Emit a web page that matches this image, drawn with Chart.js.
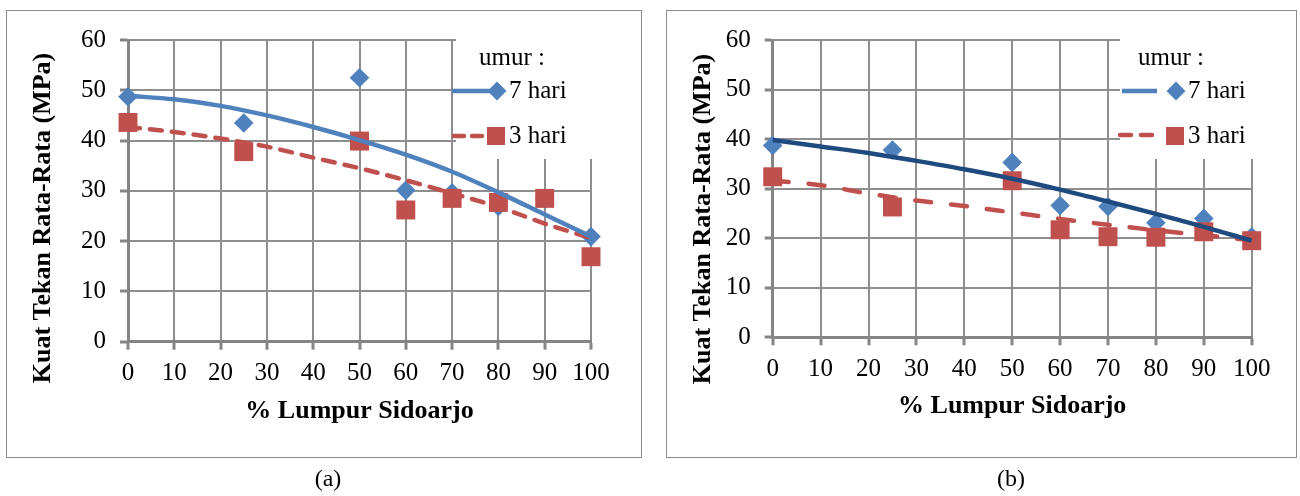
<!DOCTYPE html>
<html><head><meta charset="utf-8">
<script src="https://cdn.jsdelivr.net/npm/chart.js@4.4.1/dist/chart.umd.min.js"></script>
<style>
html,body{margin:0;padding:0;background:#fff;}
#wrap{position:relative;width:1300px;height:496px;overflow:hidden;font-family:'Liberation Serif','Times New Roman',serif;}
.frame{position:absolute;border:1.5px solid #8c8c8c;box-sizing:border-box;}
canvas{position:absolute;top:0;}
.cap{position:absolute;top:464px;font-size:24px;line-height:28px;transform:translateX(-50%);color:#000;}
</style></head>
<body><div id="wrap">
<div class="frame" style="left:6px;top:10px;width:636px;height:448px"></div>
<div class="frame" style="left:666px;top:10px;width:631px;height:448px"></div>
<canvas id="ca" width="650" height="496" style="left:0"></canvas>
<canvas id="cb" width="650" height="496" style="left:650px"></canvas>
<div class="cap" style="left:328px">(a)</div>
<div class="cap" style="left:1011px">(b)</div>
</div>
<script>
// ---- data ----
const lumpurPct = [0, 25, 50, 60, 70, 80, 90, 100];
const trendX = [0, 10, 20, 30, 40, 50, 60, 70, 80, 90, 100];
const xTickStep = 10, xMin = 0, xMax = 100;
const yTickStep = 10, yMin = 0, yMax = 60;
const seriesNames = ['7 hari', '3 hari'];
const legendTitle = 'umur :';
const xTitle = '% Lumpur Sidoarjo';
const yTitle = 'Kuat Tekan Rata-Rata (MPa)';
const panelLabels = ['(a)', '(b)'];

// panel (a)
const a7 = [48.7, 43.5, 52.5, 30.1, 29.6, 26.9, 28.4, 20.9];
const a3 = [43.6, 37.8, 39.9, 26.2, 28.5, 27.7, 28.5, 16.9];
const a7Trend = [48.9, 48.2, 46.9, 45.0, 42.7, 40.1, 37.2, 33.8, 29.7, 25.3, 20.9];
const a3Trend = [42.7, 41.7, 40.4, 38.8, 36.6, 34.5, 32.1, 29.5, 26.8, 23.5, 20.6];
// panel (b)
const b7 = [38.7, 37.8, 35.3, 26.6, 26.4, 23.1, 24.0, 20.3];
const b3 = [32.4, 26.3, 31.6, 21.7, 20.3, 20.2, 21.3, 19.5];
const b7Trend = [39.8, 38.5, 37.2, 35.6, 33.9, 32.0, 29.8, 27.4, 24.9, 22.3, 19.5];
const b3Trend = [31.6, 30.7, 29.0, 27.6, 26.5, 25.2, 23.9, 22.7, 21.6, 20.6, 19.6];

// ---- styles ----
const FONT = "'Liberation Serif','Times New Roman',serif";
const BLUE = '#4F81BD', NAVY = '#1F4A80', RED = '#C0504D';
const GRID = '#8e8e8e', AXIS = '#858585';

function pts(xs, ys) { return xs.map((x, i) => ({x: x, y: ys[i]})); }

function drawDiamond(ctx, x, y, r, c) {
  ctx.beginPath(); ctx.moveTo(x - r, y); ctx.lineTo(x, y - r); ctx.lineTo(x + r, y); ctx.lineTo(x, y + r); ctx.closePath();
  ctx.fillStyle = c; ctx.fill();
}

function decor(p) {
  return {
    id: 'decor',
    beforeDatasetsDraw(chart) {
      const ctx = chart.ctx;
      ctx.save(); ctx.fillStyle = '#fff';
      ctx.fillRect(p.box[0], p.box[1], p.box[2], p.box[3]);
      ctx.restore();
    },
    afterDraw(chart) {
      const ctx = chart.ctx;
      ctx.save();
      ctx.fillStyle = '#000';
      ctx.font = 'bold 26px ' + FONT;
      ctx.translate(p.yTitle[0], p.yTitle[1]);
      ctx.rotate(-Math.PI / 2);
      ctx.textAlign = 'center'; ctx.textBaseline = 'middle';
      ctx.fillText(yTitle, 0, 0);
      ctx.restore();

      ctx.save();
      ctx.font = '25px ' + FONT;
      ctx.fillStyle = '#000'; ctx.textAlign = 'left'; ctx.textBaseline = 'alphabetic';
      ctx.fillText(legendTitle, p.umur[0], p.umur[1]);
      ctx.fillText(seriesNames[0], p.t7[0], p.t7[1]);
      ctx.fillText(seriesNames[1], p.t3[0], p.t3[1]);
      ctx.lineWidth = 4.5; ctx.strokeStyle = BLUE; ctx.lineCap = 'butt';
      ctx.beginPath(); ctx.moveTo(p.l7[0], p.l7[2]); ctx.lineTo(p.l7[1], p.l7[2]); ctx.stroke();
      drawDiamond(ctx, p.m7[0], p.m7[1], 9.5, BLUE);
      ctx.strokeStyle = RED; ctx.lineCap = 'round'; ctx.setLineDash(p.legDash);
      ctx.beginPath(); ctx.moveTo(p.l3[0], p.l3[2]); ctx.lineTo(p.l3[1], p.l3[2]); ctx.stroke();
      ctx.setLineDash([]);
      ctx.fillStyle = RED;
      ctx.fillRect(p.m3[0] - 9, p.m3[1] - 9, 18, 18);
      ctx.restore();
    }
  };
}

function makeChart(id, d7, d3, t7, t3, t7color, dash, geo) {
  const tickFont = {family: FONT, size: 25};
  return new Chart(document.getElementById(id), {
    type: 'line',
    data: {
      datasets: [
        {label: seriesNames[0] + ' trend', data: pts(trendX, t7), borderColor: t7color, borderWidth: 4.5,
         pointRadius: 0, cubicInterpolationMode: 'monotone', fill: false, order: 0, clip: false},
        {label: seriesNames[1] + ' trend', data: pts(trendX, t3), borderColor: RED, borderWidth: 4.5,
         borderDash: dash, borderCapStyle: 'round', pointRadius: 0, cubicInterpolationMode: 'monotone', fill: false, order: 1, clip: false},
        {label: seriesNames[1], data: pts(lumpurPct, d3), showLine: false, pointStyle: 'rect', pointRadius: 13.4,
         pointBackgroundColor: RED, pointBorderWidth: 0, order: 2, clip: false},
        {label: seriesNames[0], data: pts(lumpurPct, d7), showLine: false, pointStyle: 'rectRot', pointRadius: 9.8,
         pointBackgroundColor: BLUE, pointBorderWidth: 0, order: 3, clip: false}
      ]
    },
    options: {
      responsive: false, animation: false, events: [],
      layout: {padding: {left: 0, top: 40, right: geo.right, bottom: geo.bottom}},
      plugins: {legend: {display: false}, tooltip: {enabled: false}},
      scales: {
        x: {type: 'linear', min: xMin, max: xMax,
            ticks: {stepSize: xTickStep, color: '#000', font: tickFont, padding: 9, maxRotation: 0, autoSkip: false},
            grid: {color: GRID, lineWidth: 2, tickLength: 8, tickColor: AXIS, tickWidth: 3},
            border: {color: AXIS, width: 3},
            title: {display: true, text: xTitle, color: '#000', font: {family: FONT, size: 26, weight: 'bold'}, padding: 0},
            afterFit: s => { s.height = 85; }},
        y: {type: 'linear', min: yMin, max: yMax,
            ticks: {stepSize: yTickStep, color: '#000', font: tickFont, padding: 14},
            grid: {color: GRID, lineWidth: 2, tickLength: 8, tickColor: AXIS, tickWidth: 3},
            border: {color: AXIS, width: 3},
            title: {display: false, text: yTitle},
            afterFit: s => { s.width = geo.left; }}
      }
    },
    plugins: [decor(geo)]
  });
}

makeChart('ca', a7, a3, a7Trend, a3Trend, BLUE, [12, 10], {
  left: 128, right: 59, bottom: 69.3,
  box: [456, 30, 183, 129], yTitle: [43, 218],
  umur: [479, 65], t7: [509, 98], t3: [509, 143],
  l7: [452, 497, 91], m7: [497, 91], l3: [454, 486, 136], m3: [496, 136], legDash: [10, 8]
});
makeChart('cb', b7, b3, b7Trend, b3Trend, NAVY, [16, 20], {
  left: 122.7, right: 48.3, bottom: 73.7,
  box: [470, 30, 174, 129], yTitle: [53.3, 219],
  umur: [488, 65], t7: [538, 98], t3: [538, 143],
  l7: [472, 507, 91], m7: [526, 91], l3: [470, 503, 135], m3: [525, 136], legDash: [11, 10]
});
</script>
</body></html>
